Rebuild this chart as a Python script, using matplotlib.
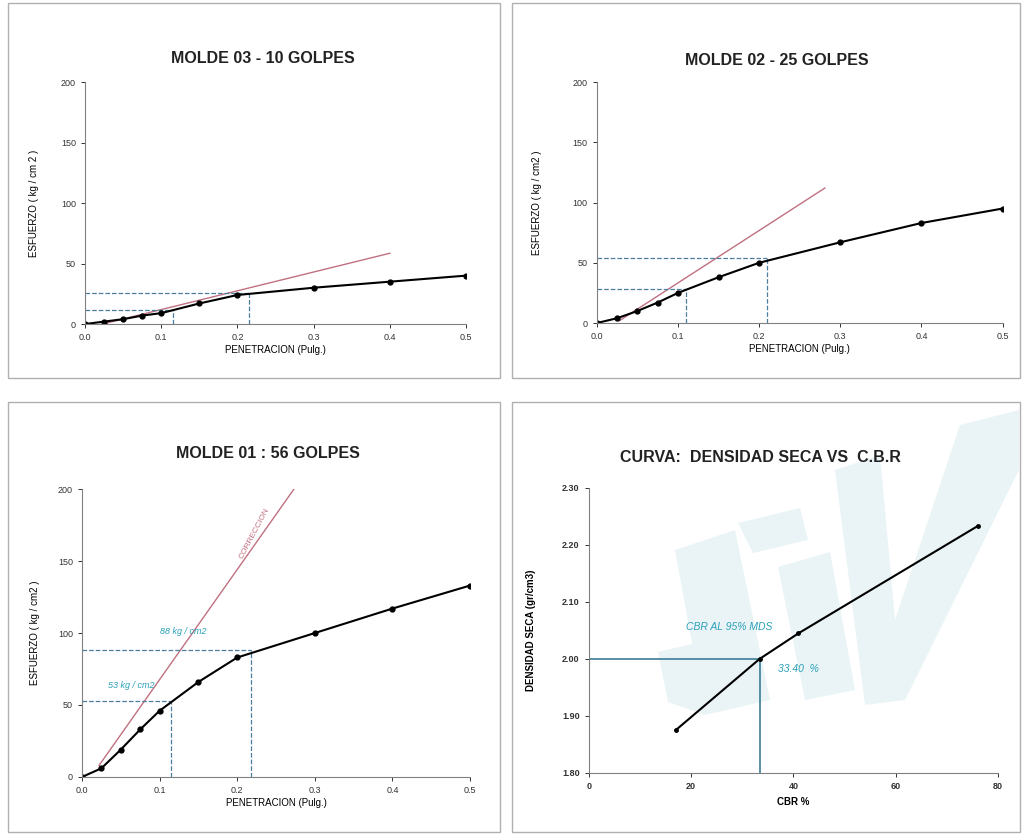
import matplotlib
matplotlib.use("Agg")
import matplotlib.pyplot as plt
from matplotlib.patches import Rectangle, Polygon

plt.rcParams['font.family'] = ['Liberation Sans', 'DejaVu Sans']

# penetration readings (pulg.)
pen = [0.0, 0.025, 0.05, 0.075, 0.1, 0.15, 0.2, 0.3, 0.4, 0.5]

# stress (kg/cm2) for each mold
m03 = [0, 2, 4, 7, 9, 17, 24, 30, 35, 40]
m02 = [0, 4, 10, 17, 25, 38, 50, 67, 83, 95]
m01 = [0, 6, 19, 33, 46, 66, 83, 100, 117, 133]

# correction lines (start and end points)
corr03_x = [0.023, 0.40]
corr03_y = [0, 58.5]
corr02_x = [0.028, 0.281]
corr02_y = [2, 112]
corr01_x = [0.022, 0.277]
corr01_y = [8, 203]

# corrected readings at 0.1" and 0.2"
read03 = [(0.115, 12), (0.215, 26)]
read02 = [(0.11, 28), (0.21, 54)]
read01 = [(0.115, 53), (0.218, 88)]

# density vs CBR
cbr = [17, 33.4, 41, 76]
dens = [1.875, 2.00, 2.045, 2.233]
cbr_95 = 33.4
dens_95 = 2.00

W, H = 1022, 836
fig = plt.figure(figsize=(10.22, 8.36), dpi=100)


def px(pts):
    # pixel coords (top-left origin) -> figure fraction
    return [(x / W, 1 - y / H) for x, y in pts]


# panel frames
for (x0, y0, x1, y1) in [(8, 3, 500, 378), (512, 3, 1020, 378),
                         (8, 402, 500, 832), (512, 402, 1020, 832)]:
    fig.patches.append(Rectangle((x0 / W, 1 - y1 / H), (x1 - x0) / W,
                                 (y1 - y0) / H, transform=fig.transFigure,
                                 fill=False, edgecolor='#b0b0b0', linewidth=1))

# faint scanned watermark shapes behind the density panel
wm_shapes = [
    [(675, 550), (735, 530), (770, 700), (705, 715)],
    [(658, 652), (700, 642), (705, 715), (668, 702)],
    [(738, 523), (800, 508), (808, 540), (753, 553)],
    [(778, 567), (830, 552), (855, 690), (805, 700)],
    [(835, 470), (880, 455), (895, 620), (960, 425), (1019, 410),
     (1019, 470), (905, 700), (865, 705)],
]
for shp in wm_shapes:
    fig.patches.append(Polygon(px(shp), closed=True, transform=fig.transFigure,
                               facecolor='#eaf4f6', edgecolor='none', zorder=-1))

teal = '#2aa0b8'
dash_col = '#4a7fa0'
red = '#c07080'


def style(ax):
    ax.set_facecolor('none')
    for s in ['top', 'right']:
        ax.spines[s].set_visible(False)
    for s in ['left', 'bottom']:
        ax.spines[s].set_color('#808080')
    ax.tick_params(labelsize=6.5, colors='#333333', length=3, width=0.7)


def penetration_panel(rect, y, cx, cy, reads, title, ylabel, tx, ty, lp):
    ax = fig.add_axes(rect)
    style(ax)
    ax.plot(cx, cy, color=red, linewidth=1)
    for (xr, yr) in reads:
        ax.plot([0, xr], [yr, yr], color=dash_col, linestyle='--', linewidth=0.9)
        ax.plot([xr, xr], [0, yr], color=dash_col, linestyle='--', linewidth=0.9)
    ax.plot(pen, y, color='black', linewidth=1.5, marker='o', markersize=3.5)
    ax.set_xlim(0, 0.5)
    ax.set_ylim(0, 200)
    ax.set_xticks([0.0, 0.1, 0.2, 0.3, 0.4, 0.5])
    ax.set_xticklabels(['0.0', '0.1', '0.2', '0.3', '0.4', '0.5'])
    ax.set_yticks([0, 50, 100, 150, 200])
    ax.set_xlabel('PENETRACION (Pulg.)', fontsize=7, labelpad=2)
    ax.set_ylabel(ylabel, fontsize=7, labelpad=lp)
    fig.text(tx, ty, title, ha='center', va='center',
             fontsize=11.5, fontweight='bold', color='#222222')
    return ax


penetration_panel([0.0832, 0.6124, 0.3728, 0.2895], m03, corr03_x, corr03_y,
                  read03, 'MOLDE 03 - 10 GOLPES', 'ESFUERZO ( kg / cm 2 )',
                  0.2575, 0.9306, 16)
penetration_panel([0.584, 0.6136, 0.397, 0.2883], m02, corr02_x, corr02_y,
                  read02, 'MOLDE 02 - 25 GOLPES', 'ESFUERZO ( kg / cm2 )',
                  0.760, 0.928, 22)
ax3 = penetration_panel([0.0802, 0.0706, 0.3798, 0.3444], m01, corr01_x, corr01_y,
                        read01, 'MOLDE 01 : 56 GOLPES', 'ESFUERZO ( kg / cm2 )',
                        0.262, 0.458, 13)
ax3.text(0.034, 62, '53 kg / cm2', fontsize=6.5, color=teal, style='italic')
ax3.text(0.100, 99, '88 kg / cm2', fontsize=6.5, color=teal, style='italic')
ax3.text(0.222, 169, 'CORRECCION', fontsize=6, color=red, rotation=62,
         ha='center', va='center')

# density panel
ax4 = fig.add_axes([0.576, 0.0754, 0.4005, 0.3409])
style(ax4)
ax4.plot([0, cbr_95], [dens_95, dens_95], color='#3a7c98', linewidth=1.2)
ax4.plot([cbr_95, cbr_95], [1.80, dens_95], color='#3a7c98', linewidth=1.2)
ax4.plot(cbr, dens, color='black', linewidth=1.5, marker='o', markersize=2.5)
ax4.set_xlim(0, 80)
ax4.set_ylim(1.80, 2.30)
ax4.set_xticks([0, 20, 40, 60, 80])
ax4.set_yticks([1.80, 1.90, 2.00, 2.10, 2.20, 2.30])
ax4.set_yticklabels(['1.80', '1.90', '2.00', '2.10', '2.20', '2.30'])
ax4.tick_params(labelsize=6.5, width=0.7)
for lab in ax4.get_xticklabels() + ax4.get_yticklabels():
    lab.set_fontweight('bold')
ax4.set_xlabel('CBR %', fontsize=7, fontweight='bold', labelpad=4)
ax4.set_ylabel('DENSIDAD SECA (gr/cm3)', fontsize=7, fontweight='bold', labelpad=19)
ax4.text(19, 2.05, 'CBR AL 95% MDS', fontsize=7.5, color=teal, style='italic')
ax4.text(37, 1.977, '33.40  %', fontsize=7.5, color=teal, style='italic')
fig.text(0.744, 0.453, 'CURVA:  DENSIDAD SECA VS  C.B.R', ha='center',
         va='center', fontsize=11.5, fontweight='bold', color='#222222')

fig.savefig('out.png', dpi=100)
